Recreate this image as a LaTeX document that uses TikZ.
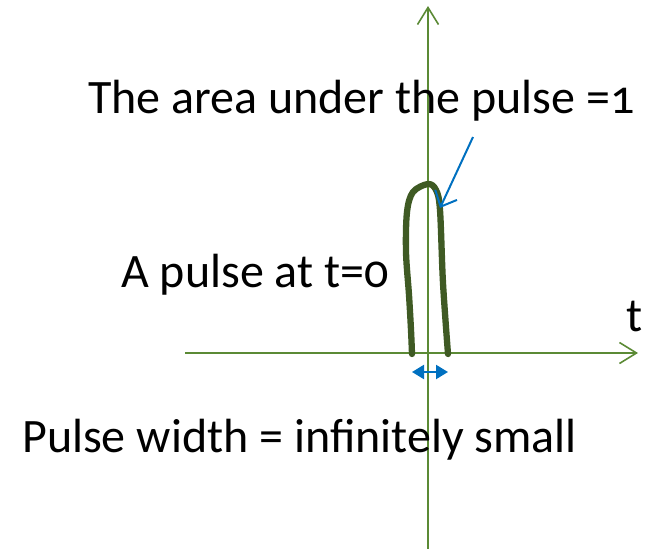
\documentclass[tikz,border=0pt]{standalone}
\usepackage{fontspec}
\setmainfont{Carlito}[Numbers=OldStyle]
\usetikzlibrary{arrows.meta}
\definecolor{axisgreen}{HTML}{5B8A35}
\definecolor{pulsegreen}{HTML}{3F5A24}
\definecolor{arrowblue}{HTML}{0070C0}
\tikzset{
  axisline/.style={draw=axisgreen, line width=1.6pt, -{Straight Barb[length=17pt,width=21pt,line width=1.6pt]}},
  lbl/.style={anchor=base west, inner sep=0pt, font=\fontsize{48}{57}\selectfont, text=black},
  pulseline/.style={draw=pulsegreen, line width=6.3pt, line cap=round, line join=round},
  blueptr/.style={draw=arrowblue, line width=2pt, -{Straight Barb[length=13pt,width=24pt,line width=2pt]}},
  widtharrow/.style={draw=arrowblue, line width=2.2pt, {Triangle[length=12pt,width=14pt]}-{Triangle[length=12pt,width=14pt]}}
}
\begin{document}
\begin{tikzpicture}[x=1pt,y=-1pt]
\useasboundingbox (0,0) rectangle (646,549);
% axes
\coordinate (xs) at (185,353);
\coordinate (xe) at (638,353);
\coordinate (ys) at (428,549);
\coordinate (ye) at (428,6);
\draw[axisline] (xs) -- (xe);
\draw[axisline] (ys) -- (ye);
% pulse
\draw[pulseline] plot[smooth, tension=0.55] coordinates {
  (412,354) (411,330) (409,295) (406,252) (407,212) (413,192) (428,184) (436,190) (440,210) (443,283) (448,354)};
% labels
\node[lbl] (title) at (88,113) {The area under the pulse =1};
\node[lbl] (pulseat) at (121,287) {A pulse at t=0};
\node[lbl] (tlabel) at (626,331) {t};
\node[lbl] (widthlbl) at (22,452) {Pulse width = infinitely small};
% blue pointer
\coordinate (pa) at (473,137);
\coordinate (pb) at (440,208);
\draw[blueptr] (pa) -- (pb);
% width arrow
\coordinate (wa) at (412,372);
\coordinate (wb) at (448,372);
\draw[widtharrow] (wa) -- (wb);
\end{tikzpicture}
\end{document}
